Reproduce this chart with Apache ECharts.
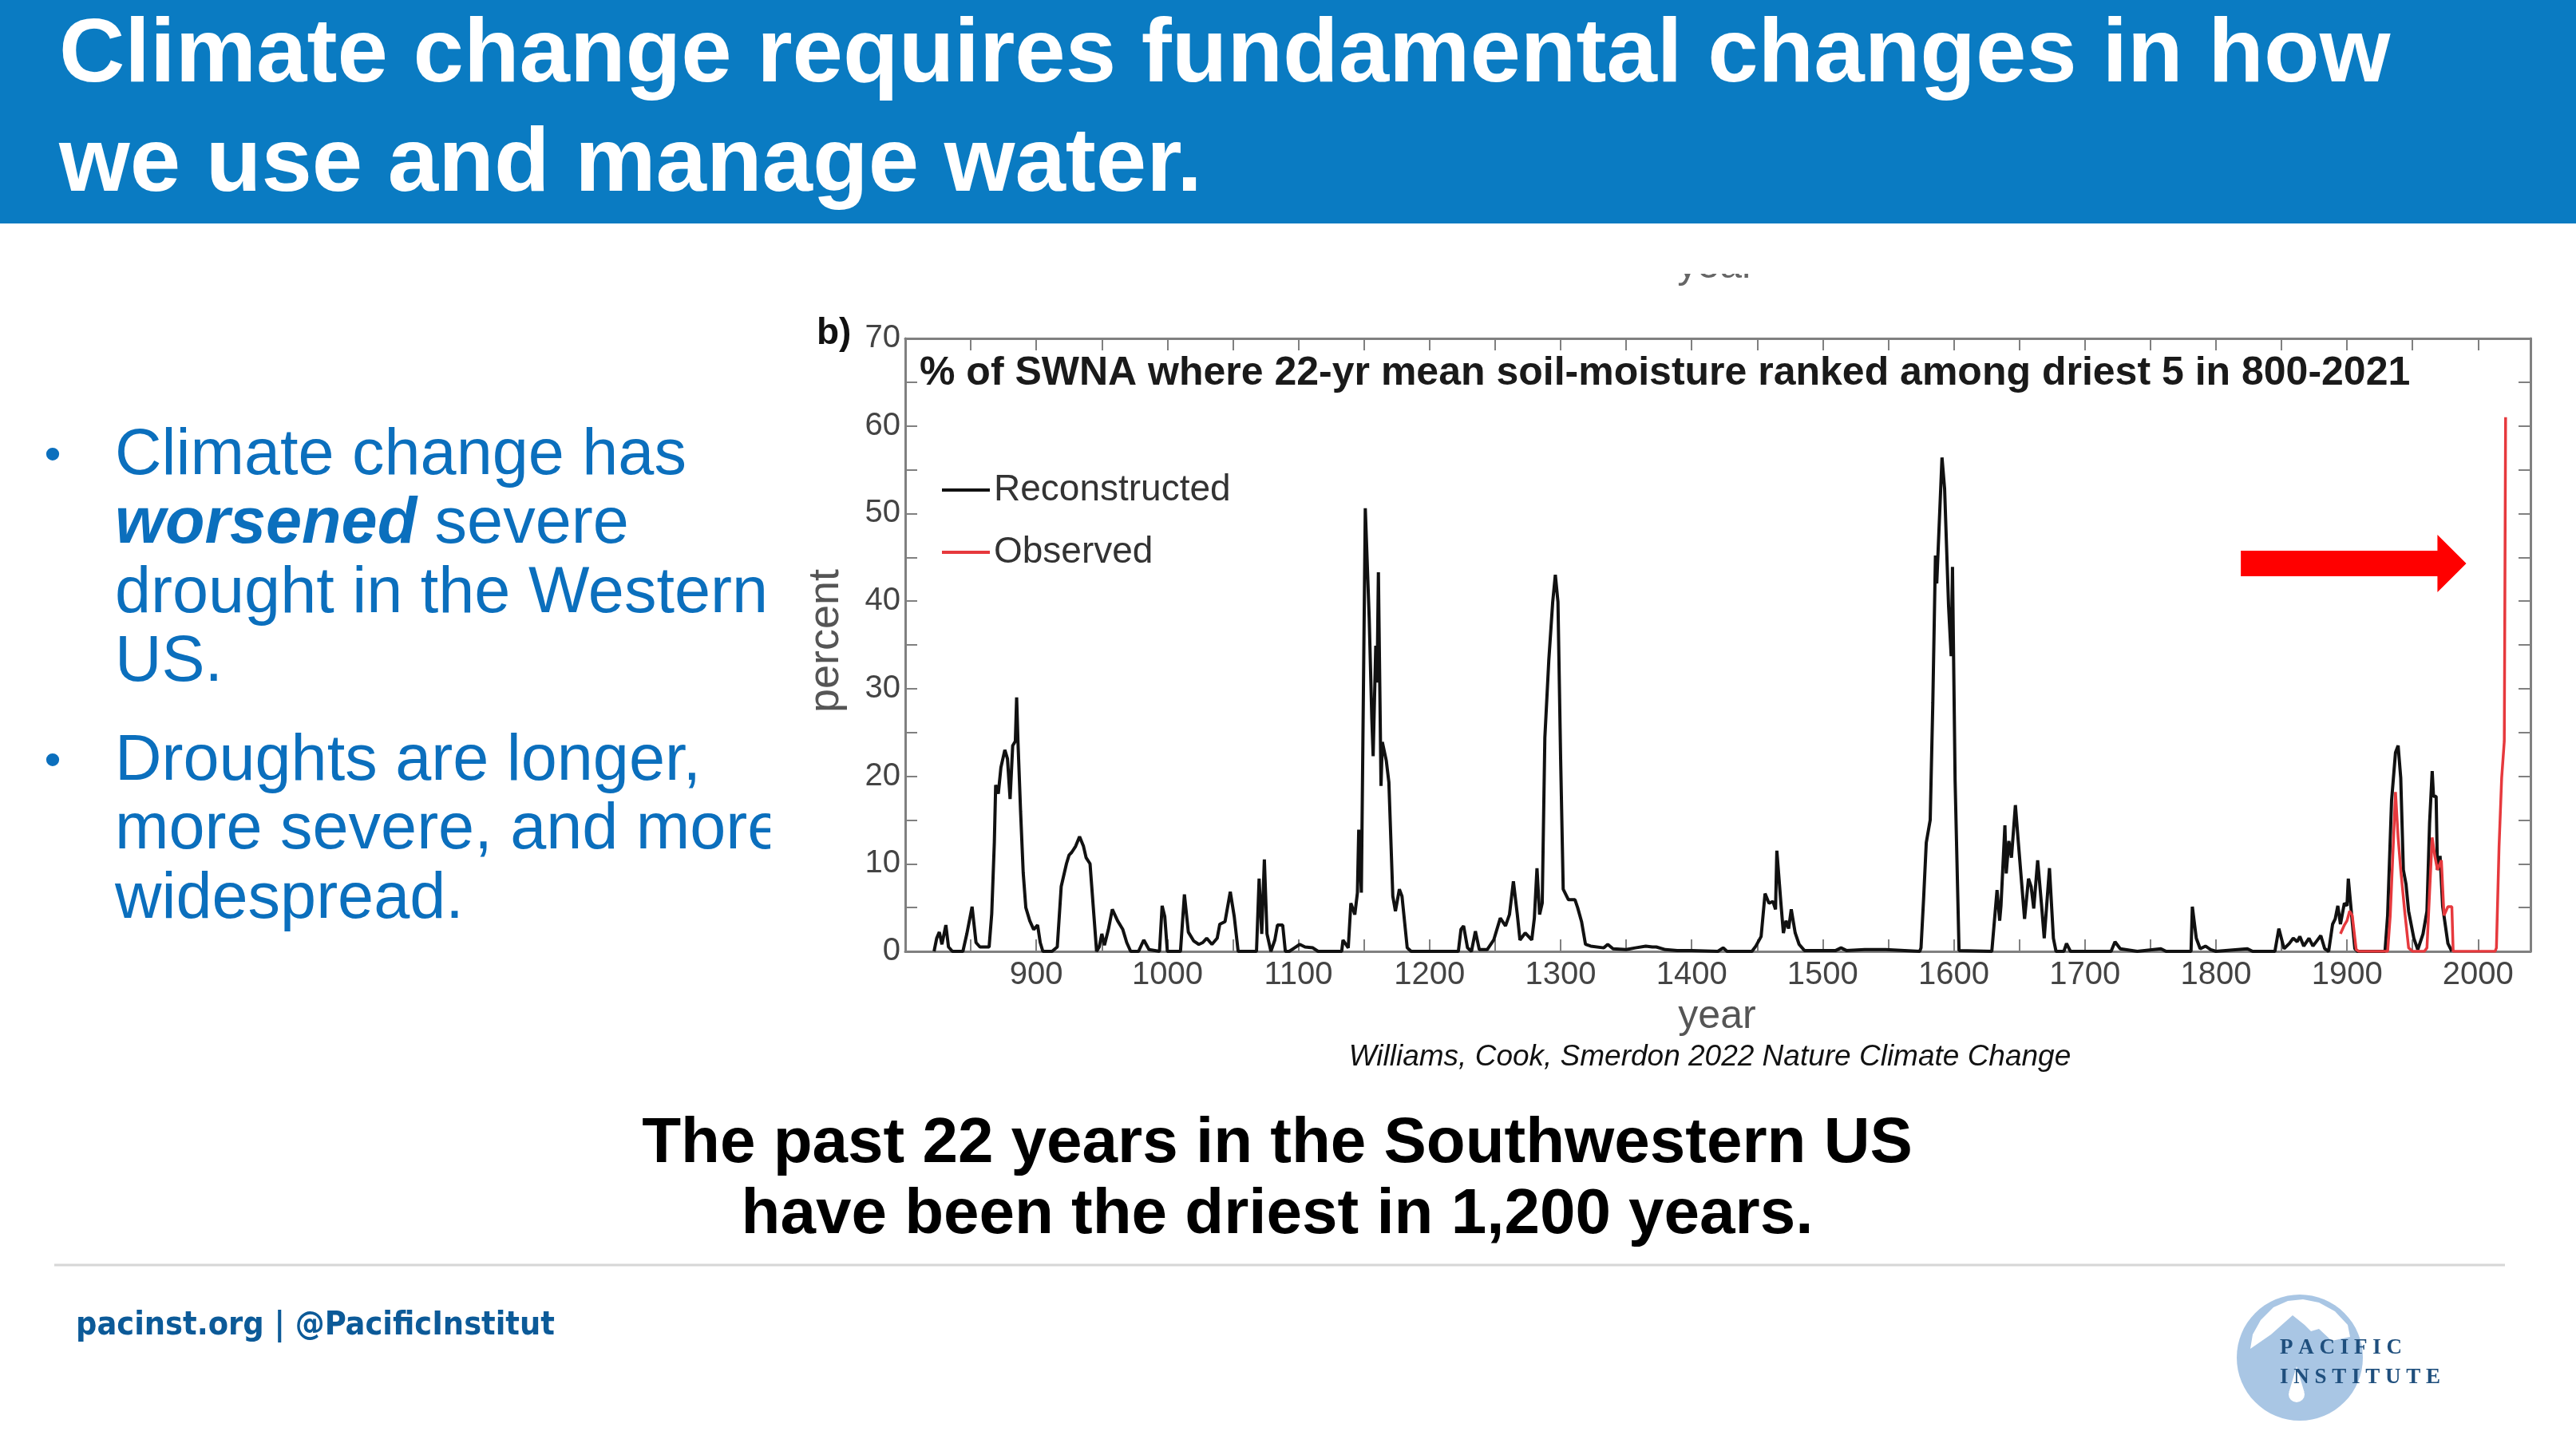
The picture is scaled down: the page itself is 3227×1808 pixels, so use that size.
<!DOCTYPE html>
<html>
<head>
<meta charset="utf-8">
<script src="https://cdn.jsdelivr.net/npm/echarts@6/dist/echarts.min.js"></script>
<style>
html,body{margin:0;padding:0;background:#fff;}
#c{width:3227px;height:1808px;}
</style>
</head>
<body>
<div id="c"></div>
<script>
// ---------- DATA ----------
const recYears = [822,824,826,828,831,833,836,844,847,851,854,857,864,866,868,869,871,873,876,878,880,882,884,885,886,888,890,892,895,898,901,903,905,912,916,919,923,925,927,930,933,936,938,941,944,946,948,950,952,955,958,962,966,969,972,978,982,986,994,996,998,1000,1010,1013,1016,1020,1024,1027,1030,1034,1038,1040,1044,1048,1051,1054,1068,1070,1072,1074,1076,1079,1082,1084,1088,1090,1093,1097,1101,1105,1111,1115,1133,1134,1138,1140,1143,1145,1146,1148,1151,1154,1156,1157,1159,1160,1161,1163,1164,1167,1169,1172,1174,1177,1179,1183,1186,1222,1224,1226,1229,1232,1235,1238,1244,1249,1254,1258,1261,1264,1267,1269,1273,1278,1280,1282,1284,1286,1288,1291,1294,1296,1298,1300,1302,1306,1311,1313,1316,1319,1323,1333,1336,1340,1350,1357,1365,1370,1373,1380,1389,1400,1420,1424,1427,1446,1449,1453,1456,1459,1462,1464,1465,1468,1470,1472,1474,1476,1479,1482,1486,1510,1514,1518,1532,1548,1574,1575,1577,1579,1582,1584,1586,1587,1590,1591,1593,1596,1598,1599,1601,1604,1629,1631,1633,1635,1636,1639,1640,1642,1644,1647,1649,1654,1657,1659,1661,1664,1667,1669,1673,1676,1678,1684,1686,1689,1720,1723,1727,1740,1758,1762,1781,1782,1785,1788,1792,1796,1800,1824,1828,1845,1848,1852,1856,1859,1862,1864,1867,1871,1874,1877,1880,1883,1886,1889,1891,1893,1895,1898,1900,1901,1904,1906,1908,1929,1931,1934,1937,1939,1941,1943,1945,1947,1951,1954,1958,1961,1963,1965,1966,1968,1969,1971,1973,1977,1980];
const recValues = [0,1.5,2.2,0.8,3,0.5,0,0,2,5.1,1,0.5,0.5,4.3,12.5,19,18,21,23,22,17.4,23.5,24,29,24,16,9,5,3.5,2.5,3,1,0,0,0.5,7.4,10,11,11.3,12,13.1,12,10.7,10,4,0,0.5,2,0.7,2.5,4.8,3.5,2.5,1,0,0,1.3,0.2,0,5.2,4,0,0,6.5,2.2,1.2,0.8,1,1.5,0.8,1.5,3.1,3.4,6.8,4,0,0,8.3,2,10.5,2,0,1.3,3,3,0,0,0.4,0.8,0.5,0.4,0,0,1.3,0.4,5.5,4.2,6.7,13.9,6.7,50.6,38,26.5,22.3,34.9,30.7,43.3,18.9,23.9,21.8,19.3,6.3,4.6,7.1,6.3,0.4,0,0,2.5,2.9,0.4,0,2.3,0.2,0.2,1.3,3.8,2.9,4.2,8,4.2,1.3,2.1,1.3,3.8,9.5,4.2,5.5,24.4,33.2,39.9,43,39.9,22.3,7.1,5.9,5.9,5,3.4,0.8,0.6,0.4,0.8,0.3,0.2,0.4,0.6,0.5,0.5,0.2,0.1,0.1,0,0.4,0,0,0.6,1.7,6.6,5.5,5.7,4.8,11.5,5.7,2.1,3.5,2.6,4.8,2.1,0.8,0.1,0.1,0.4,0.1,0.2,0.2,0,0.4,6.1,12.4,15,28.4,45.2,42,52.8,56.4,52.8,39.5,33.7,43.9,19.5,0.1,0,3.5,7,3.5,5.2,14.4,8.9,12.6,10.7,16.7,12.9,3.7,8.3,7.4,4.9,10.4,5.2,1.5,9.5,1.5,0,0,0.9,0,0,1.1,0.3,0,0.3,0,0,5.1,1.5,0.3,0.6,0.2,0,0.3,0,0,2.6,0.3,0.9,1.5,1.1,1.7,0.6,1.5,0.6,1.2,1.8,0.3,0,3.1,3.7,5.2,3.1,5.5,5.2,8.3,3.4,0.3,0,0,4.1,17.2,22.7,23.5,19.8,9.3,7.7,4.6,1.5,0.2,2,4.6,14.6,20.6,17.7,17.7,9.3,10.9,5.1,0.9,0];

const obsYears = [1895,1898,1900,1902,1904,1907,1909,1931,1933,1936,1937,1939,1941,1944,1947,1950,1959,1961,1963,1965,1967,1969,1972,1974,1977,1980,1981,2013,2014,2016,2018,2020,2021];
const obsValues = [2,3,3.5,4.6,4.1,0.2,0,0,4.1,14.6,18.2,13,9.3,4.6,0.4,0,0,0.4,6.7,13,10.9,9.3,10.4,4.1,5.1,5.1,0,0,0.4,11.9,19.8,24,61];

const seriesNames = ['Reconstructed', 'Observed'];
// arrow annotation: [startYear, headStartYear, tipYear, percent]
const arrowSpec = [[1819, 1969, 1991, 44.3]];

const titleLines = ['Climate change requires fundamental changes in how', 'we use and manage water.'];
const chartTitle = '% of SWNA where 22-yr mean soil-moisture ranked among driest 5 in 800-2021';
const citation = 'Williams, Cook, Smerdon 2022 Nature Climate Change';
const takeaway = ['The past 22 years in the Southwestern US', 'have been the driest in 1,200 years.'];

// ---------- CHART ----------
const chart = echarts.init(document.getElementById('c'));
const SANS = '"Liberation Sans", Arial, Helvetica, sans-serif';
const recData = recYears.map((y, i) => [y, recValues[i]]);
const obsData = obsYears.map((y, i) => [y, obsValues[i]]);
const axisGray = '#808080';

function xAxisCfg(pos, showLabel) {
  return {
    type: 'value', position: pos, min: 800, max: 2040, interval: 50,
    axisLine: {show: true, onZero: false, lineStyle: {color: axisGray, width: 3}},
    axisTick: {show: true, inside: true, length: 15, lineStyle: {color: axisGray, width: 2}},
    splitLine: {show: false},
    axisLabel: {show: showLabel, fontSize: 40, color: '#444', fontFamily: SANS, margin: 10,
      formatter: v => (v % 100 === 0 && v !== 800) ? String(v) : ''}
  };
}
function yAxisCfg(pos, showLabel) {
  return {
    type: 'value', position: pos, min: 0, max: 70, interval: 5,
    axisLine: {show: true, onZero: false, lineStyle: {color: axisGray, width: 3}},
    axisTick: {show: true, inside: true, length: 15, lineStyle: {color: axisGray, width: 2}},
    splitLine: {show: false},
    axisLabel: {show: showLabel, fontSize: 40, color: '#444', fontFamily: SANS, margin: 6,
      formatter: v => (v % 10 === 0) ? String(v) : ''}
  };
}

const graphics = [];
graphics.push({type: 'rect', id: 'bar', shape: {x: 0, y: 0, width: 3227, height: 280}, style: {fill: '#0a7bc2'}, z: 0});
graphics.push({type: 'text', id: 't1', x: 74, y: 71, style: {text: titleLines[0], fill: '#fff', fontSize: 114, fontWeight: 'bold', fontFamily: SANS, verticalAlign: 'middle'}});
graphics.push({type: 'text', id: 't2', x: 74, y: 208, style: {text: titleLines[1], fill: '#fff', fontSize: 114, fontWeight: 'bold', fontFamily: SANS, verticalAlign: 'middle'}});

const bulletColor = '#0b6fbd';
const bullet1 = ['Climate change has', '{bi|worsened} severe', 'drought in the Western', 'US.'];
const bullet2 = ['Droughts are longer,', 'more severe, and more', 'widespread.'];
const b1y = [572, 658, 745, 831];
const b2y = [955, 1041, 1128];
[[bullet1, b1y], [bullet2, b2y]].forEach(([lines, ys], bi) => {
  graphics.push({type: 'text', id: 'dot' + bi, x: 66, y: ys[0], style: {text: '•', fill: bulletColor, fontSize: 60, fontFamily: SANS, verticalAlign: 'middle', align: 'center'}});
  lines.forEach((ln, i) => {
    graphics.push({type: 'text', id: 'b' + bi + '_' + i, x: 144, y: ys[i], style: {
      text: ln, fill: bulletColor, fontSize: 81, fontFamily: SANS, verticalAlign: 'middle',
      rich: {bi: {fontSize: 81, fontFamily: SANS, fontWeight: 'bold', fontStyle: 'italic', fill: bulletColor}}
    }});
  });
});
// the chart picture covers the end of "more"
graphics.push({type: 'rect', id: 'clipmore', shape: {x: 965, y: 990, width: 60, height: 100}, style: {fill: '#fff'}});

// remnant of previous panel label, clipped at top
graphics.push({type: 'text', id: 'yr0', x: 2150, y: 334, style: {text: 'year', fill: '#666', fontSize: 50, fontFamily: SANS, align: 'center', verticalAlign: 'middle'}});
graphics.push({type: 'rect', id: 'yr0clip', shape: {x: 2080, y: 282, width: 150, height: 61}, style: {fill: '#fff'}});

graphics.push({type: 'text', id: 'bpanel', x: 1023, y: 418, style: {text: 'b)', fill: '#111', fontSize: 46, fontWeight: 'bold', fontFamily: SANS, verticalAlign: 'middle'}});
graphics.push({type: 'text', id: 'ctitle', x: 1152, y: 468, style: {text: chartTitle, fill: '#1a1a1a', fontSize: 50, fontWeight: 'bold', fontFamily: SANS, verticalAlign: 'middle'}, z: 10});
graphics.push({type: 'text', id: 'ylab', x: 1035, y: 803, rotation: Math.PI / 2, style: {text: 'percent', fill: '#555', fontSize: 54, fontFamily: SANS, align: 'center', verticalAlign: 'middle'}});
graphics.push({type: 'text', id: 'xlab', x: 2151, y: 1274, style: {text: 'year', fill: '#555', fontSize: 50, fontFamily: SANS, align: 'center', verticalAlign: 'middle'}});
graphics.push({type: 'text', id: 'cite', x: 2142, y: 1325, style: {text: citation, fill: '#111', fontSize: 37, fontStyle: 'italic', fontFamily: SANS, align: 'center', verticalAlign: 'middle'}});
graphics.push({type: 'text', id: 'take1', x: 1600, y: 1434, style: {text: takeaway[0], fill: '#000', fontSize: 80, fontWeight: 'bold', fontFamily: SANS, align: 'center', verticalAlign: 'middle'}});
graphics.push({type: 'text', id: 'take2', x: 1600, y: 1523, style: {text: takeaway[1], fill: '#000', fontSize: 80, fontWeight: 'bold', fontFamily: SANS, align: 'center', verticalAlign: 'middle'}});
graphics.push({type: 'line', id: 'divider', shape: {x1: 68, y1: 1585, x2: 3138, y2: 1585}, style: {stroke: '#d6d6d6', lineWidth: 3}});
graphics.push({type: 'text', id: 'footer', x: 95, y: 1661, style: {text: 'pacinst.org | @PacificInstitut', fill: '#0c5a98', fontSize: 41, fontWeight: 'bold', fontFamily: '"DejaVu Sans Condensed", "DejaVu Sans", sans-serif', verticalAlign: 'middle'}});

// logo
graphics.push({type: 'circle', id: 'logoC', shape: {cx: 2881, cy: 1701, r: 79}, style: {fill: '#a9c6e4'}});
graphics.push({type: 'polygon', id: 'logoSky', shape: {points: [[2819, 1690], [2822, 1672], [2832, 1654], [2848, 1638], [2866, 1630], [2885, 1628], [2905, 1632], [2925, 1643], [2941, 1660], [2944, 1675], [2921, 1680], [2905, 1665], [2895, 1668], [2887, 1660], [2872, 1648], [2845, 1672]]}, style: {fill: '#fff'}});
graphics.push({type: 'circle', id: 'logoDrop', shape: {cx: 2877, cy: 1747, r: 10}, style: {fill: '#fff'}});
graphics.push({type: 'polygon', id: 'logoDropTop', shape: {points: [[2877, 1712], [2867.5, 1744], [2886.5, 1744]]}, style: {fill: '#fff'}});
graphics.push({type: 'text', id: 'logoT1', x: 2856, y: 1689, style: {text: 'P A C I F I C', fill: '#1f4f7d', fontSize: 27, fontWeight: 'bold', fontFamily: '"Liberation Serif", "DejaVu Serif", serif', verticalAlign: 'middle'}});
graphics.push({type: 'text', id: 'logoT2', x: 2856, y: 1726, style: {text: 'I N S T I T U T E', fill: '#1f4f7d', fontSize: 27, fontWeight: 'bold', fontFamily: '"Liberation Serif", "DejaVu Serif", serif', verticalAlign: 'middle'}});

const option = {
  backgroundColor: '#fff',
  animation: false,
  grid: {left: 1134, top: 424, width: 2036, height: 768, containLabel: false},
  xAxis: [xAxisCfg('bottom', true), xAxisCfg('top', false)],
  yAxis: [yAxisCfg('left', true), yAxisCfg('right', false)],
  legend: {
    data: seriesNames, orient: 'vertical', left: 1175, top: 586,
    icon: 'rect', itemWidth: 60, itemHeight: 4, itemGap: 32,
    textStyle: {fontSize: 46, color: '#333', fontFamily: SANS, lineHeight: 46},
    selectedMode: false
  },
  series: [
    {name: seriesNames[0], type: 'line', data: recData, xAxisIndex: 0, yAxisIndex: 0,
     showSymbol: false, symbol: 'none', lineStyle: {color: '#111', width: 4}, itemStyle: {color: '#111'}, z: 3},
    {name: seriesNames[1], type: 'line', data: obsData, xAxisIndex: 0, yAxisIndex: 0,
     showSymbol: false, symbol: 'none', lineStyle: {color: '#e6393d', width: 3.5}, itemStyle: {color: '#e6393d'}, z: 4},
    {type: 'custom', name: 'arrow', data: arrowSpec, xAxisIndex: 0, yAxisIndex: 0, z: 5,
     renderItem: function (params, api) {
       const p0 = api.coord([api.value(0), api.value(3)]);
       const ph = api.coord([api.value(1), api.value(3)]);
       const pt = api.coord([api.value(2), api.value(3)]);
       const hs = 16, hh = 36;
       return {type: 'polygon', shape: {points: [
         [p0[0], p0[1] - hs], [ph[0], ph[1] - hs], [ph[0], ph[1] - hh], [pt[0], pt[1]],
         [ph[0], ph[1] + hh], [ph[0], ph[1] + hs], [p0[0], p0[1] + hs]]},
         style: {fill: '#ff0000'}};
     }}
  ],
  graphic: graphics
};
chart.setOption(option);
</script>
</body>
</html>
